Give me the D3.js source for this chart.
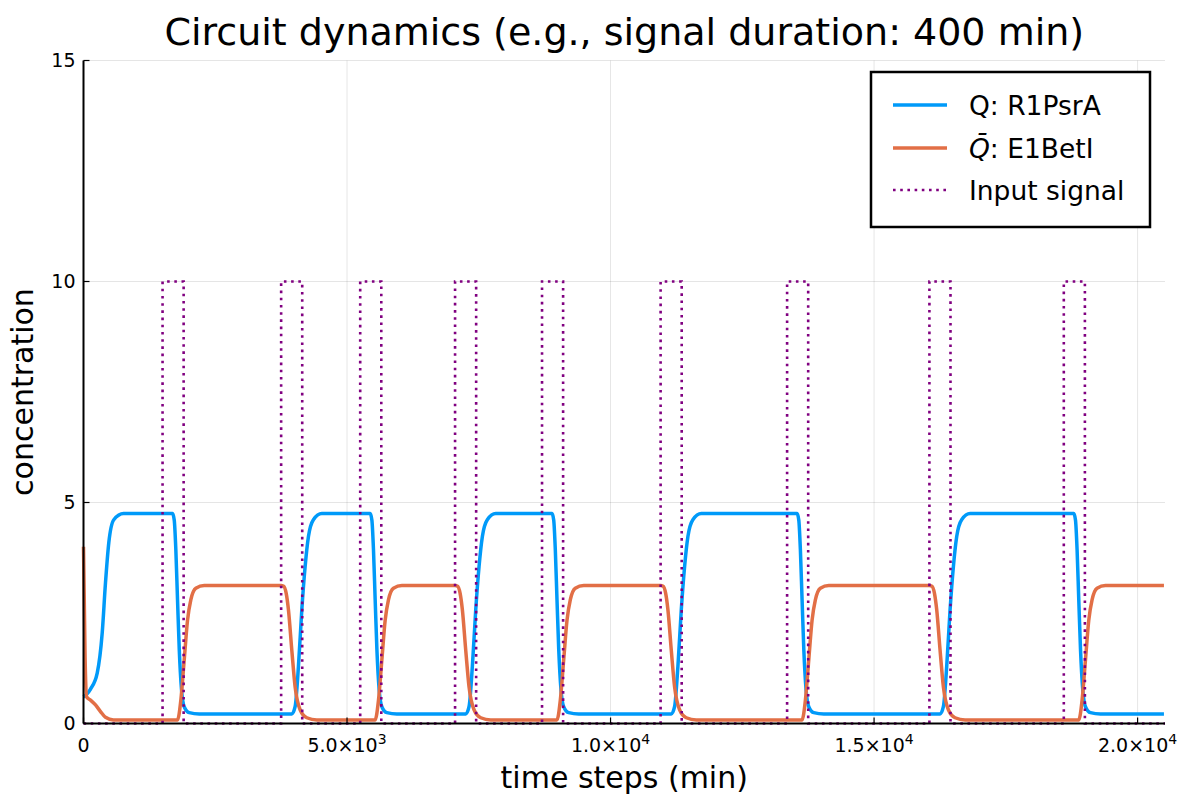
<!DOCTYPE html>
<html>
<head>
<meta charset="utf-8">
<script src="https://cdn.jsdelivr.net/npm/d3@7"></script>
<style>
  body { margin: 0; background: #fff; }
  text { font-family: "DejaVu Sans", sans-serif; }
</style>
</head>
<body>
<script>
// data
const signalStarts = [1500, 3750, 5250, 7050, 8700, 10950, 13350, 16050, 18600];
const signalEnds   = [1900, 4150, 5650, 7450, 9100, 11350, 13750, 16450, 19000];
const signalHigh = 10;

// Q: R1PsrA  [time, concentration]
const qTimes = [0, 60, 133, 260, 355, 417, 480, 575, 760,
  1690, 1722, 1752, 1784, 1817, 1860, 1911, 2006, 2196,
  3953, 4015, 4078, 4142, 4205, 4268, 4362, 4522,
  5440, 5472, 5502, 5534, 5567, 5610, 5661, 5756, 5946,
  7253, 7315, 7378, 7442, 7505, 7568, 7662, 7822,
  8890, 8922, 8952, 8984, 9017, 9060, 9111, 9206, 9396,
  11153, 11215, 11278, 11342, 11405, 11468, 11562, 11722,
  13540, 13572, 13602, 13634, 13667, 13710, 13761, 13856, 14046,
  16253, 16315, 16378, 16442, 16505, 16568, 16662, 16822,
  18790, 18822, 18852, 18884, 18917, 18960, 19011, 19106, 19296,
  20500];
const qValues = [0.6, 0.66, 0.78, 1.14, 2.05, 3.18, 4.09, 4.61, 4.75,
  4.75, 4.6, 3.93, 2.8, 1.67, 0.76, 0.38, 0.245, 0.215,
  0.215, 0.38, 1.29, 2.57, 3.55, 4.23, 4.61, 4.75,
  4.75, 4.6, 3.93, 2.8, 1.67, 0.76, 0.38, 0.245, 0.215,
  0.215, 0.38, 1.29, 2.57, 3.55, 4.23, 4.61, 4.75,
  4.75, 4.6, 3.93, 2.8, 1.67, 0.76, 0.38, 0.245, 0.215,
  0.215, 0.38, 1.29, 2.57, 3.55, 4.23, 4.61, 4.75,
  4.75, 4.6, 3.93, 2.8, 1.67, 0.76, 0.38, 0.245, 0.215,
  0.215, 0.38, 1.29, 2.57, 3.55, 4.23, 4.61, 4.75,
  4.75, 4.6, 3.93, 2.8, 1.67, 0.76, 0.38, 0.245, 0.215,
  0.215];

// Q-bar: E1BetI
const qbTimes = [0, 30, 60, 133, 228, 323, 417, 569,
  1784, 1847, 1911, 1974, 2037, 2131, 2291,
  3750, 3794, 3845, 3888, 3953, 4015, 4110, 4237, 4427,
  5534, 5597, 5661, 5724, 5787, 5881, 6041,
  7050, 7094, 7145, 7188, 7253, 7315, 7410, 7537, 7727,
  8984, 9047, 9111, 9174, 9237, 9331, 9491,
  10950, 10994, 11045, 11088, 11153, 11215, 11310, 11437, 11627,
  13634, 13697, 13761, 13824, 13887, 13981, 14141,
  16050, 16094, 16145, 16188, 16253, 16315, 16410, 16537, 16727,
  18884, 18947, 19011, 19074, 19137, 19231, 19391,
  20500];
const qbValues = [4.0, 1.5, 0.6, 0.53, 0.42, 0.27, 0.14, 0.08,
  0.08, 0.53, 1.44, 2.34, 2.8, 3.06, 3.12,
  3.12, 3.11, 2.95, 2.58, 1.65, 0.83, 0.31, 0.13, 0.08,
  0.08, 0.53, 1.44, 2.34, 2.8, 3.06, 3.12,
  3.12, 3.11, 2.95, 2.58, 1.65, 0.83, 0.31, 0.13, 0.08,
  0.08, 0.53, 1.44, 2.34, 2.8, 3.06, 3.12,
  3.12, 3.11, 2.95, 2.58, 1.65, 0.83, 0.31, 0.13, 0.08,
  0.08, 0.53, 1.44, 2.34, 2.8, 3.06, 3.12,
  3.12, 3.11, 2.95, 2.58, 1.65, 0.83, 0.31, 0.13, 0.08,
  0.08, 0.53, 1.44, 2.34, 2.8, 3.06, 3.12,
  3.12];

const xTicks = [0, 5000, 10000, 15000, 20000];
const yTicks = [0, 5, 10, 15];
const seriesNames = ["Q: R1PsrA", "E1BetI", "Input signal"];

const w = 1185, h = 795;
const margin = {top: 60.5, right: 20, bottom: 71.5, left: 83.5};
const width = w - margin.left - margin.right,
    height = h - margin.top - margin.bottom;

const svg = d3.select("body").append("svg")
    .attr("width", w)
    .attr("height", h);

const g = svg.append("g")
    .attr("transform", "translate(" + margin.left + "," + margin.top + ")");

const x = d3.scaleLinear().domain([0, 20520]).range([0, width]);
const y = d3.scaleLinear().domain([0, 15]).range([height, 0]);

// grid
g.selectAll(".gx").data(xTicks).join("line")
    .attr("x1", d => x(d)).attr("x2", d => x(d))
    .attr("y1", 0).attr("y2", height)
    .attr("stroke", "#000").attr("stroke-opacity", 0.1).attr("stroke-width", 1);
g.selectAll(".gy").data(yTicks).join("line")
    .attr("x1", 0).attr("x2", width)
    .attr("y1", d => y(d)).attr("y2", d => y(d))
    .attr("stroke", "#000").attr("stroke-opacity", 0.1).attr("stroke-width", 1);

// series
const qData = qTimes.map((t, i) => [t, qValues[i]]);
const qbData = qbTimes.map((t, i) => [t, qbValues[i]]);
const sigData = [[0, 0]];
signalStarts.forEach((s, i) => {
    sigData.push([s, 0], [s, signalHigh], [signalEnds[i], signalHigh], [signalEnds[i], 0]);
});
sigData.push([20520, 0]);

const smooth = d3.line().x(d => x(d[0])).y(d => y(d[1])).curve(d3.curveMonotoneX);
const straight = d3.line().x(d => x(d[0])).y(d => y(d[1]));

const plot = g.append("g");
plot.append("path").datum(qData)
    .attr("d", smooth).attr("fill", "none")
    .attr("stroke", "#009af9").attr("stroke-width", 3.5).attr("stroke-linejoin", "round");
plot.append("path").datum(qbData)
    .attr("d", smooth).attr("fill", "none")
    .attr("stroke", "#e26f46").attr("stroke-width", 3.5).attr("stroke-linejoin", "round");
plot.append("path").datum(sigData)
    .attr("d", straight).attr("fill", "none")
    .attr("stroke", "#800080").attr("stroke-width", 2.6)
    .attr("stroke-dasharray", "2.6,4.6");

// axes
const axisG = g.append("g");
axisG.append("line").attr("x1", 0).attr("x2", width).attr("y1", height).attr("y2", height)
    .attr("stroke", "#000").attr("stroke-width", 2);
axisG.append("line").attr("x1", 0).attr("x2", 0).attr("y1", 0).attr("y2", height)
    .attr("stroke", "#000").attr("stroke-width", 2);

axisG.selectAll(".tx").data(xTicks).join("line")
    .attr("x1", d => x(d)).attr("x2", d => x(d))
    .attr("y1", height).attr("y2", height - 6)
    .attr("stroke", "#000").attr("stroke-width", 1.2);
axisG.selectAll(".ty").data(yTicks).join("line")
    .attr("x1", 0).attr("x2", 6)
    .attr("y1", d => y(d)).attr("y2", d => y(d))
    .attr("stroke", "#000").attr("stroke-width", 1.2);

// y tick labels
axisG.selectAll(".yl").data(yTicks).join("text")
    .attr("x", -8).attr("y", d => y(d)).attr("dy", "0.35em")
    .attr("text-anchor", "end").attr("font-size", 19)
    .text(d => d);

// x tick labels with exponent
const xl = axisG.selectAll(".xl").data(xTicks).join("text")
    .attr("x", d => x(d)).attr("y", height + 28)
    .attr("text-anchor", "middle").attr("font-size", 19);
xl.each(function(d) {
    const t = d3.select(this);
    if (d === 0) { t.text("0"); return; }
    const e = Math.floor(Math.log10(d));
    const m = d / Math.pow(10, e);
    t.append("tspan").text(m.toFixed(1) + "×10");
    t.append("tspan").attr("dy", -8).attr("font-size", 14).text(e);
});

// axis titles
g.append("text")
    .attr("x", width / 2).attr("y", height + 64.5)
    .attr("text-anchor", "middle").attr("font-size", 30)
    .text("time steps (min)");
g.append("text")
    .attr("transform", "translate(" + (-51) + "," + (height / 2) + ") rotate(-90)")
    .attr("text-anchor", "middle").attr("font-size", 30)
    .text("concentration");

// title
svg.append("text")
    .attr("x", margin.left + width / 2).attr("y", 45)
    .attr("text-anchor", "middle").attr("font-size", 38)
    .text("Circuit dynamics (e.g., signal duration: 400 min)");

// legend
const leg = svg.append("g").attr("transform", "translate(871,72)");
leg.append("rect").attr("width", 279).attr("height", 155)
    .attr("fill", "#fff").attr("stroke", "#000").attr("stroke-width", 2.5);
const legColors = ["#009af9", "#e26f46", "#800080"];
const legRows = [33, 76, 118];
legRows.forEach((ry, i) => {
    const ln = leg.append("line").attr("x1", 22).attr("x2", 76).attr("y1", ry).attr("y2", ry)
        .attr("stroke", legColors[i]);
    if (i === 2) ln.attr("stroke-width", 2.6).attr("stroke-dasharray", "2.6,4.6");
    else ln.attr("stroke-width", 3.5);
    const tx = leg.append("text").attr("x", 98).attr("y", ry).attr("dy", "0.36em")
        .attr("font-size", 26.5);
    if (i === 1) {
        tx.append("tspan").attr("font-style", "italic").text("Q\u0304");
        tx.append("tspan").text(": " + seriesNames[1]);
    } else {
        tx.text(seriesNames[i]);
    }
});
</script>
</body>
</html>
